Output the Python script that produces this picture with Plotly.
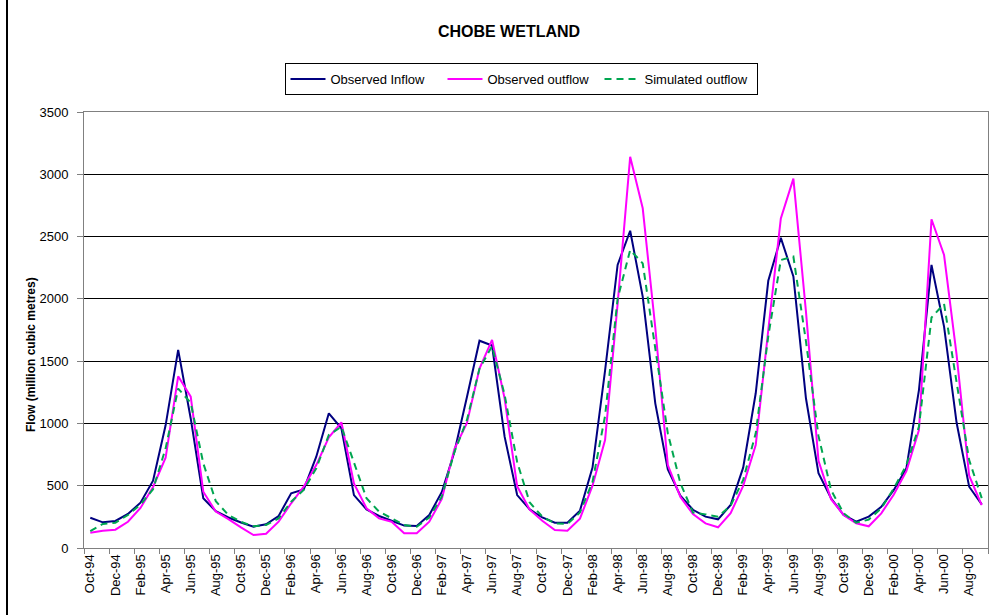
import plotly.graph_objects as go

# Monthly flows, Oct-1994 to Sep-2000 (million cubic metres)
month_names = ["Oct", "Nov", "Dec", "Jan", "Feb", "Mar", "Apr", "May", "Jun", "Jul", "Aug", "Sep"]
months = []
for yr in range(94, 100):
    for k, m in enumerate(month_names):
        y = yr if k < 3 else yr + 1
        months.append(f"{m}-{y % 100:02d}")

observed_inflow = [
    243, 206, 217, 273, 364, 540, 985, 1590, 1040, 399, 295, 245,
    205, 171, 190, 257, 439, 471, 733, 1081, 961, 425, 310, 257,
    219, 180, 177, 265, 450, 770, 1212, 1664, 1625, 894, 425, 310,
    245, 203, 203, 300, 645, 1424, 2272, 2547, 2018, 1161, 630, 420,
    307, 252, 230, 345, 645, 1242, 2145, 2490, 2180, 1202, 600, 399,
    265, 211, 252, 330, 466, 640, 1268, 2272, 1777, 1005, 492, 350,
]

observed_outflow = [
    123, 139, 147, 211, 322, 490, 725, 1378, 1215, 452, 292, 232,
    165, 104, 115, 211, 359, 492, 666, 888, 1009, 519, 319, 238,
    211, 118, 118, 211, 395, 795, 1004, 1440, 1670, 1200, 495, 308,
    219, 145, 139, 235, 500, 867, 1960, 3140, 2727, 1770, 666, 410,
    272, 198, 166, 279, 499, 827, 1750, 2645, 2965, 1900, 700, 392,
    265, 198, 174, 278, 430, 617, 947, 2639, 2352, 1550, 580, 345,
]

simulated_outflow = [
    136, 193, 203, 265, 348, 472, 800, 1280, 1165, 680, 375, 265,
    210, 174, 185, 238, 372, 466, 640, 907, 974, 680, 399, 292,
    238, 185, 171, 245, 412, 770, 1028, 1440, 1620, 1230, 690, 365,
    252, 198, 193, 285, 530, 1060, 2000, 2392, 2285, 1620, 920, 520,
    285, 270, 252, 340, 546, 921, 1700, 2312, 2339, 1660, 900, 465,
    279, 203, 228, 319, 479, 666, 974, 1850, 1960, 1330, 706, 400,
]

FONT = "Liberation Sans, Arial, sans-serif"

fig = go.Figure()
fig.add_trace(go.Scatter(x=months, y=observed_inflow, mode="lines", name="Observed Inflow",
                         line=dict(color="#000080", width=2)))
fig.add_trace(go.Scatter(x=months, y=observed_outflow, mode="lines", name="Observed outflow",
                         line=dict(color="#FF00FF", width=2)))
fig.add_trace(go.Scatter(x=months, y=simulated_outflow, mode="lines", name="Simulated outflow",
                         line=dict(color="#00A650", width=2, dash="7px,5px")))

W, H = 1003, 615
L, R, T, B = 84, 15, 112, 67
pw, ph = W - L - R, H - T - B

def px_x(p):
    return (p - L) / pw

def px_y(p):
    return (H - B - p) / ph

fig.update_layout(
    width=W, height=H,
    margin=dict(l=L, r=R, t=T, b=B, pad=0),
    paper_bgcolor="white", plot_bgcolor="white",
    font=dict(family=FONT, size=13, color="black"),
    title=dict(text="<b>CHOBE WETLAND</b>", x=509 / W, xanchor="center",
               y=1 - 31 / H, yanchor="middle", font=dict(size=16, family=FONT)),
    legend=dict(orientation="h", x=px_x(521), xanchor="center", y=px_y(63), yanchor="top",
                bordercolor="black", borderwidth=1, bgcolor="white",
                font=dict(size=13, family=FONT), itemwidth=35,
                entrywidth=107, entrywidthmode="pixels", tracegroupgap=0),
    showlegend=True,
)

fig.update_xaxes(
    type="category", tickmode="linear", tick0=0, dtick=2, tickson="boundaries",
    ticks="outside", ticklen=5, tickcolor="#808080", tickangle=-90,
    tickfont=dict(size=13, family=FONT),
    showline=True, linecolor="#808080", linewidth=1, mirror=True,
    showgrid=False, range=[-0.5, 71.5],
)
fig.update_yaxes(
    range=[0, 3500], tickmode="linear", tick0=0, dtick=500,
    ticks="outside", ticklen=6, tickcolor="#808080", ticklabelstandoff=6,
    tickfont=dict(size=13, family=FONT),
    showline=True, linecolor="#808080", linewidth=1, mirror=True,
    showgrid=True, gridcolor="black", gridwidth=1, zeroline=False,
)

fig.add_annotation(text="<b>Flow (million cubic metres)</b>", textangle=-90,
                   xref="paper", yref="paper", x=px_x(31), y=px_y(355),
                   xanchor="center", yanchor="middle",
                   showarrow=False, font=dict(size=12, family=FONT))

# outer chart frame
fig.add_shape(type="line", xref="paper", yref="paper",
              x0=px_x(7), x1=px_x(7), y0=px_y(0), y1=px_y(615),
              line=dict(color="black", width=2))

fig.write_html("out.html")
